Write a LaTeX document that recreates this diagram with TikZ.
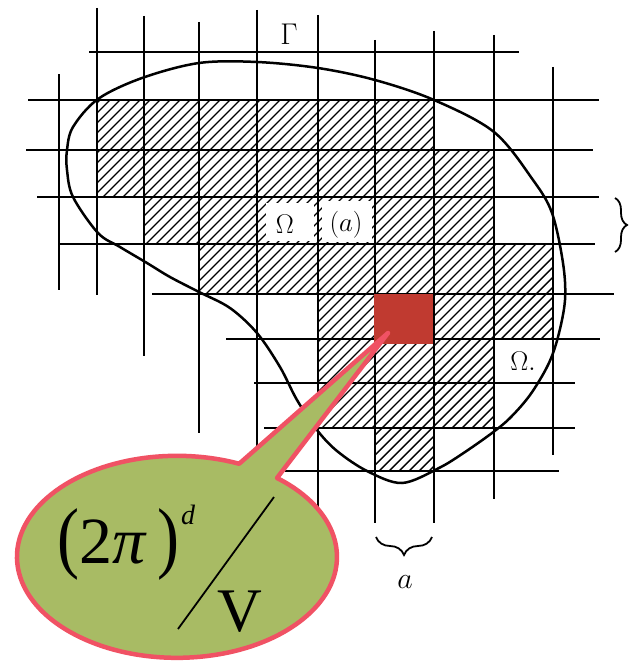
\RequirePackage{fix-cm}
\documentclass[tikz,border=0pt]{standalone}
\usepackage{graphicx}
\usepackage{fontspec}
\newfontfamily\tnr{Liberation Serif}
\usetikzlibrary{decorations.pathreplacing}
\definecolor{sqred}{RGB}{192,58,48}
\definecolor{callfill}{RGB}{168,187,100}
\definecolor{callline}{RGB}{240,82,100}
\begin{document}
\begin{tikzpicture}[x=1pt,y=-1pt,
  gridline/.style={line width=2.2pt},
  hatchline/.style={line width=1.4pt},
  lbl/.style={font=\fontsize{27}{32}\selectfont, inner sep=0pt},
  bracestyle/.style={line width=1.8pt, decorate},
  calltext/.style={anchor=base west, inner sep=0pt}]
\useasboundingbox (0,0) rectangle (637,661);
\fill[white] (0,0) rectangle (637,661);

% hatched cells
\begin{scope}
\clip (97,100) rectangle (434,150)
      (97,150) rectangle (494,197)
      (144,197) rectangle (494,244)
      (199,244) rectangle (553,294)
      (318,294) rectangle (553,339)
      (318,339) rectangle (494,383)
      (318,383) rectangle (494,428)
      (375,428) rectangle (434,471);
\foreach \c in {180,190,...,1060}
  \draw[hatchline] ({\c-490},490) -- ({\c-90},90);
\end{scope}

% white label patches
\fill[white] (266,203) rectangle (314,241);
\fill[white] (322,201) rectangle (372,242);

% grid lines
\foreach \x/\a/\b in {59/74/290, 97/8/295, 144/16/356, 199/22/433, 257/10/470,
                      318/15/508, 375/40/523, 434/31/523, 494/35/499, 553/67/455}
  \draw[gridline] (\x,\a) -- (\x,\b);
\foreach \y/\a/\b in {52/89/519, 100/28/599, 150/26/593, 197/37/599, 244/59/595,
                      294/152/614, 339/226/600, 383/254/575, 428/264/575, 471/285/559}
  \draw[gridline] (\a,\y) -- (\b,\y);

% red cell
\fill[sqred] (374,294) rectangle (433,344);

% boundary curve Gamma
\draw[line width=2.5pt, line join=round] plot[smooth cycle, tension=0.55] coordinates {
  (98,99) (142,78) (199,63) (257,62) (318,68) (375,80) (434,100) (494,132)
  (533,180) (552,213) (563,263) (565,300) (558,337) (548,365) (530,395)
  (510,418) (492,433) (465,452) (439,468) (402,483) (367,471) (337,451)
  (317,430) (297,400) (280,367) (257,333) (230,308) (199,292) (170,277)
  (147,263) (120,247) (98,233) (73,197) (67,170) (67,150) (73,127)};

% labels
\node[lbl, font=\fontsize{30}{34}\selectfont] (gamma) at (289,34) {$\Gamma$};
\node[lbl] (om1) at (285,224) {$\Omega$};
\node[lbl] (oma) at (346,225) {$(a)$};
\node[lbl] (om2) at (523,361) {$\Omega.$};
\node[lbl, font=\fontsize{30}{34}\selectfont] (alab) at (405,582) {$a$};

% braces
\draw[bracestyle, decoration={brace, amplitude=12pt}] (615,198) -- (615,252);
\draw[bracestyle, decoration={brace, amplitude=18pt}] (432,537) -- (376,537);

% callout
\filldraw[fill=callfill, draw=callline, line width=4.5pt, line join=round]
  (240,463) -- (388,333) -- (277,478)
  arc[start angle=51.3, end angle=-292.8, x radius=160pt, y radius=101pt] -- cycle;
\node[calltext, font=\tnr\fontsize{66}{66}\selectfont] (twopi) at (57,563)
  {\scalebox{1}[1.2]{(}2\textit{π}\hspace{11pt}\scalebox{1}[1.2]{)}};
\node[calltext, font=\tnr\itshape\fontsize{28}{28}\selectfont] (dexp) at (181,524) {d};
\coordinate (slashtop) at (274,497);
\coordinate (slashbot) at (178,629);
\draw[line width=1.8pt] (slashtop) -- (slashbot);
\node[calltext, font=\tnr\fontsize{62}{62}\selectfont] (vden) at (217,631) {V};
\end{tikzpicture}
\end{document}
